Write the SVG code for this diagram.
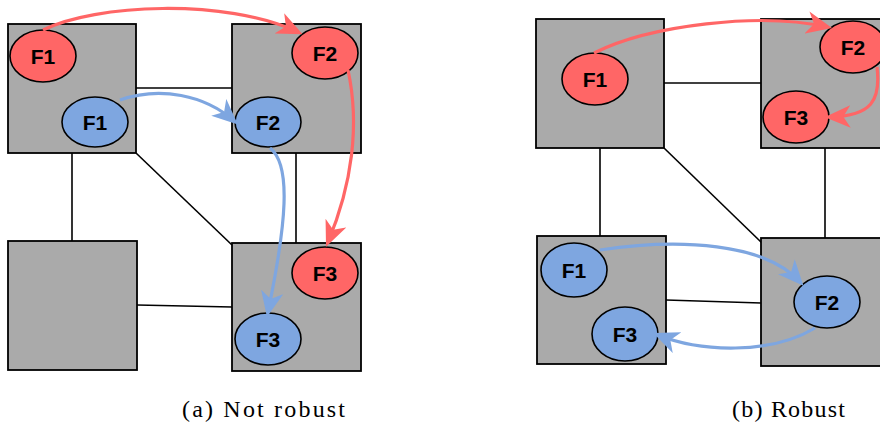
<svg xmlns="http://www.w3.org/2000/svg" width="880" height="423" viewBox="0 0 880 423">
  <defs>
    <style>
      .box { fill: #aaaaaa; stroke: #000; stroke-width: 1.8; }
      .link { stroke: #000; stroke-width: 1.6; fill: none; }
      .red { fill: #ff6666; stroke: #000; stroke-width: 1.6; }
      .blue { fill: #7ea6e0; stroke: #000; stroke-width: 1.6; }
      .lbl { font-family: "Liberation Sans", Arial, sans-serif; font-weight: bold; font-size: 21px; text-anchor: middle; dominant-baseline: central; fill: #000; }
      .ar { fill: none; stroke: #ff6666; stroke-width: 3.2; }
      .ab { fill: none; stroke: #7ea6e0; stroke-width: 3.2; }
      .cap { font-family: "Liberation Serif", "Times New Roman", serif; font-size: 24px; fill: #000; }
    </style>
    <marker id="mr" markerUnits="strokeWidth" markerWidth="8" markerHeight="7.2" viewBox="0 0 25 22" refX="20" refY="11" orient="auto">
      <path d="M0,0 L25,11 L0,22 L7,11 z" fill="#ff6666"/>
    </marker>
    <marker id="mb" markerUnits="strokeWidth" markerWidth="8" markerHeight="7.2" viewBox="0 0 25 22" refX="20" refY="11" orient="auto">
      <path d="M0,0 L25,11 L0,22 L7,11 z" fill="#7ea6e0"/>
    </marker>
  </defs>

  <!-- Panel (a) -->
  <g id="a-links">
    <line class="link" x1="136" y1="88" x2="232" y2="88"/>
    <line class="link" x1="72" y1="153" x2="72" y2="241"/>
    <line class="link" x1="136" y1="153" x2="232" y2="245"/>
    <line class="link" x1="296" y1="153" x2="296" y2="243"/>
    <line class="link" x1="137" y1="305" x2="232" y2="307"/>
  </g>
  <g id="a-tl"><rect class="box" x="8" y="24" width="128" height="129"/></g>
  <g id="a-tr"><rect class="box" x="232" y="24" width="129" height="129"/></g>
  <g id="a-bl"><rect class="box" x="8" y="241" width="129" height="129"/></g>
  <g id="a-br"><rect class="box" x="232" y="243" width="129" height="128"/></g>

  <g id="a-rf1"><ellipse class="red" cx="43" cy="56" rx="33" ry="26"/><text class="lbl" x="43" y="56">F1</text></g>
  <g id="a-bf1"><ellipse class="blue" cx="95" cy="122" rx="33" ry="25"/><text class="lbl" x="95" y="122">F1</text></g>
  <g id="a-rf2"><ellipse class="red" cx="325" cy="53" rx="33" ry="26"/><text class="lbl" x="325" y="53">F2</text></g>
  <g id="a-bf2"><ellipse class="blue" cx="268" cy="122" rx="33" ry="25"/><text class="lbl" x="268" y="122">F2</text></g>
  <g id="a-rf3"><ellipse class="red" cx="325" cy="273" rx="33" ry="26"/><text class="lbl" x="325" y="273">F3</text></g>
  <g id="a-bf3"><ellipse class="blue" cx="268" cy="339" rx="33" ry="26"/><text class="lbl" x="268" y="339">F3</text></g>

  <!-- Panel (b) -->
  <g id="b-links">
    <line class="link" x1="664" y1="83" x2="761" y2="83"/>
    <line class="link" x1="600" y1="148" x2="600" y2="236"/>
    <line class="link" x1="664" y1="148" x2="762" y2="243"/>
    <line class="link" x1="825" y1="148" x2="825" y2="238"/>
    <line class="link" x1="666" y1="300" x2="761" y2="303"/>
  </g>
  <g id="b-tl"><rect class="box" x="536" y="19" width="128" height="129"/></g>
  <g id="b-tr"><rect class="box" x="761" y="19" width="128" height="129"/></g>
  <g id="b-bl"><rect class="box" x="537" y="236" width="129" height="128"/></g>
  <g id="b-br"><rect class="box" x="761" y="238" width="128" height="128"/></g>

  <g id="b-rf1"><ellipse class="red" cx="595" cy="79" rx="33" ry="26"/><text class="lbl" x="595" y="79">F1</text></g>
  <g id="b-rf2"><ellipse class="red" cx="853" cy="47" rx="33" ry="26"/><text class="lbl" x="853" y="47">F2</text></g>
  <g id="b-rf3"><ellipse class="red" cx="796" cy="117" rx="33" ry="26"/><text class="lbl" x="796" y="117">F3</text></g>
  <g id="b-bf1"><ellipse class="blue" cx="574" cy="270" rx="33" ry="27"/><text class="lbl" x="574" y="270">F1</text></g>
  <g id="b-bf2"><ellipse class="blue" cx="827" cy="302" rx="33" ry="26"/><text class="lbl" x="827" y="302">F2</text></g>
  <g id="b-bf3"><ellipse class="blue" cx="625" cy="334" rx="33" ry="27"/><text class="lbl" x="625" y="334">F3</text></g>

  <!-- Connectors (flows) -->
  <g id="flows">
    <path class="ar" d="M43,30 C95,4 225,-2 298,32" marker-end="url(#mr)"/>
    <path class="ar" d="M348,70 C360,125 352,185 328,242" marker-end="url(#mr)"/>
    <path class="ab" d="M120,100 C160,86 205,95 234,121" marker-end="url(#mb)"/>
    <path class="ab" d="M270,148 C292,165 286,225 268,312" marker-end="url(#mb)"/>
    <path class="ar" d="M594,53 C650,25 760,12 827,27" marker-end="url(#mr)"/>
    <path class="ar" d="M877,67 C881,100 872,116 830,117" marker-end="url(#mr)"/>
    <path class="ab" d="M600,250 C680,238 765,243 800,282" marker-end="url(#mb)"/>
    <path class="ab" d="M815,328 C770,355 700,352 658,335" marker-end="url(#mb)"/>
  </g>

  <text class="cap" x="182" y="417" textLength="163" lengthAdjust="spacing">(a) Not robust</text>
  <text class="cap" x="732" y="417" textLength="113" lengthAdjust="spacing">(b) Robust</text>
</svg>
